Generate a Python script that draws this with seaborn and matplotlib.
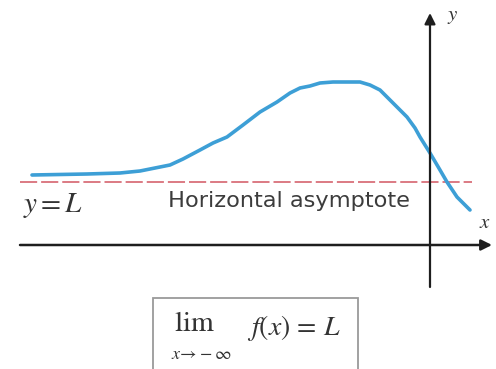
import matplotlib
matplotlib.use("Agg")
import matplotlib.pyplot as plt
import seaborn as sns
import pandas as pd
from matplotlib.patches import Rectangle

# Curve f(x) approaching the horizontal asymptote y = L as x -> -infinity
curve_x = [-19.9, -17.15, -15.5, -14.5, -14.0, -13.5, -13.0, -12.35, -11.5, -10.85,
           -10.15, -9.35, -8.5, -7.65, -7.0, -6.5, -6.0, -5.5, -4.85, -4.15,
           -3.5, -3.0, -2.5, -2.15, -1.65, -1.15, -0.75, -0.5, 0.0, 0.5,
           0.85, 1.35, 2.0]
curve_y = [3.5, 3.55, 3.6, 3.7, 3.8, 3.9, 4.0, 4.3, 4.75, 5.1,
           5.4, 6.0, 6.65, 7.15, 7.6, 7.85, 7.95, 8.1, 8.15, 8.15,
           8.15, 8.0, 7.75, 7.4, 6.9, 6.4, 5.85, 5.4, 4.6, 3.75,
           3.15, 2.4, 1.75]
asymptote_L = 3.15

asym_label = "Horizontal asymptote"
level_label = r"$y = L$"
limit_label = r"$f(x)\,=\,L$"

sns.set_style("white")
plt.rcParams["mathtext.fontset"] = "stix"
plt.rcParams["font.family"] = ["DejaVu Sans"]

fig = plt.figure(figsize=(4.96, 3.69), dpi=100)
ax = fig.add_axes([0, 0, 1, 1])
ax.set_xlim(-21.5, 3.3)
ax.set_ylim(-6.2, 12.25)
ax.axis("off")

axis_color = "#1e1e1e"
text_color = "#333333"

# Coordinate axes with arrow heads
ax.annotate("", xy=(3.1, 0), xytext=(-20.5, 0),
            arrowprops=dict(arrowstyle="-|>", mutation_scale=16, lw=1.8,
                            color=axis_color, shrinkA=0, shrinkB=0))
ax.annotate("", xy=(0, 11.6), xytext=(0, -2.1),
            arrowprops=dict(arrowstyle="-|>", mutation_scale=16, lw=1.6,
                            color=axis_color, shrinkA=0, shrinkB=0))
ax.text(2.75, 1.15, r"$x$", fontsize=15, ha="center", va="center", color=text_color)
ax.text(1.15, 11.45, r"$y$", fontsize=15, ha="center", va="center", color=text_color)

# Horizontal asymptote
ax.plot([-20.5, 2.1], [asymptote_L, asymptote_L], color="#d9707a", lw=1.3,
        dashes=(9.5, 2.2))

# The function curve
df = pd.DataFrame({"x": curve_x, "y": curve_y})
sns.lineplot(data=df, x="x", y="y", ax=ax, color="#3d9fd6", lw=2.6, sort=False,
             solid_capstyle="round", solid_joinstyle="round")

ax.text(-20.35, 2.0, level_label, fontsize=21, ha="left", va="center",
        color=text_color)
ax.text(-13.1, 2.2, asym_label, fontsize=16.2, ha="left", va="center",
        color="#3c3c3c")

# Boxed limit statement
ax.add_patch(Rectangle((-13.85, -6.6), 10.25, 3.95, fill=False,
                       edgecolor="#9a9a9a", lw=1.3))
ax.text(-11.8, -3.9, r"$\mathrm{lim}$", fontsize=21, ha="center", va="center",
        color=text_color)
ax.text(-11.45, -5.45, r"$x\!\rightarrow\!-\infty$", fontsize=13, ha="center",
        va="center", color=text_color)
ax.text(-9.15, -4.15, limit_label, fontsize=20, ha="left", va="center",
        color=text_color)

fig.savefig("out.png", dpi=100)
